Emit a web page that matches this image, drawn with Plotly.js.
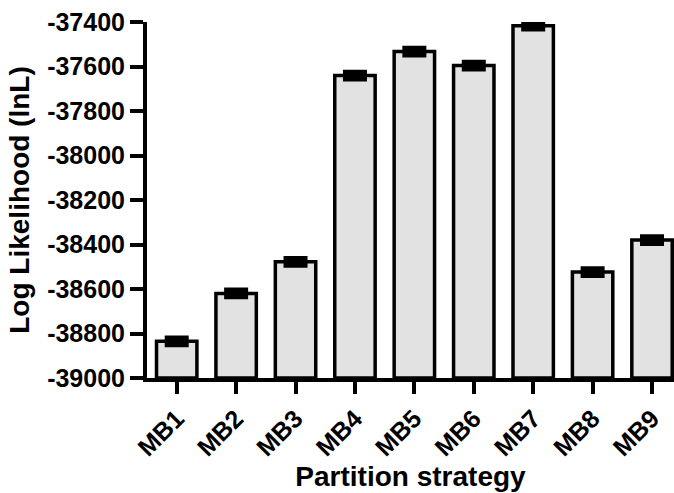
<!DOCTYPE html>
<html>
<head>
<meta charset="utf-8">
<script src="https://cdn.plot.ly/plotly-3.0.1.min.js"></script>
<style>
  html, body { margin: 0; padding: 0; background: #ffffff; }
  #chart { width: 674px; height: 493px; }
</style>
</head>
<body>
<div id="chart"></div>
<script>
// ---- data ----
const categories = ['MB1', 'MB2', 'MB3', 'MB4', 'MB5', 'MB6', 'MB7', 'MB8', 'MB9'];
const logLikelihood = [-38835, -38620, -38478, -37641, -37533, -37596, -37417, -38524, -38380];
const errors = [15, 15, 15, 15, 15, 15, 15, 15, 15];
const yTickVals = [-39000, -38800, -38600, -38400, -38200, -38000, -37800, -37600, -37400];
const yTickText = ['-39000', '-38800', '-38600', '-38400', '-38200', '-38000', '-37800', '-37600', '-37400'];
const BASE = -39000;

const font = "'Liberation Sans', Arial, sans-serif";

const trace = {
  type: 'bar',
  x: categories,
  base: BASE,
  y: logLikelihood.map(v => v - BASE),
  width: 0.68,
  marker: { color: '#e2e2e2', line: { color: '#000000', width: 3.5 } },
  error_y: { type: 'data', array: errors, visible: true, color: '#000000', thickness: 5, width: 12 },
  hovertemplate: '%{x}: %{customdata}<extra></extra>',
  customdata: logLikelihood
};

const layout = {
  width: 674,
  height: 493,
  margin: { l: 147, r: 0, t: 22, b: 115 },
  paper_bgcolor: '#ffffff',
  plot_bgcolor: '#ffffff',
  showlegend: false,
  font: { family: font, color: '#000000' },
  xaxis: {
    type: 'category',
    range: [-0.5, 8.37],
    showline: true, linecolor: '#000000', linewidth: 4,
    ticks: 'outside', ticklen: 12, tickwidth: 4, tickcolor: '#000000',
    tickangle: -45,
    tickfont: { family: font, size: 25, color: '#000000', weight: 'bold' },
    showgrid: false, zeroline: false,
    title: { text: 'Partition strategy', font: { family: font, size: 28, color: '#000000', weight: 'bold' }, standoff: 6 }
  },
  yaxis: {
    range: [-39000, -37400],
    tickmode: 'array', tickvals: yTickVals, ticktext: yTickText,
    showline: true, linecolor: '#000000', linewidth: 4,
    ticks: 'outside', ticklen: 13, tickwidth: 4, tickcolor: '#000000',
    tickfont: { family: font, size: 25, color: '#000000', weight: 'bold' },
    showgrid: false, zeroline: false,
    title: { text: 'Log Likelihood (lnL)', font: { family: font, size: 28, color: '#000000', weight: 'bold' }, standoff: 10 }
  }
};

Plotly.newPlot('chart', [trace], layout, { staticPlot: true, displayModeBar: false });
</script>
</body>
</html>
